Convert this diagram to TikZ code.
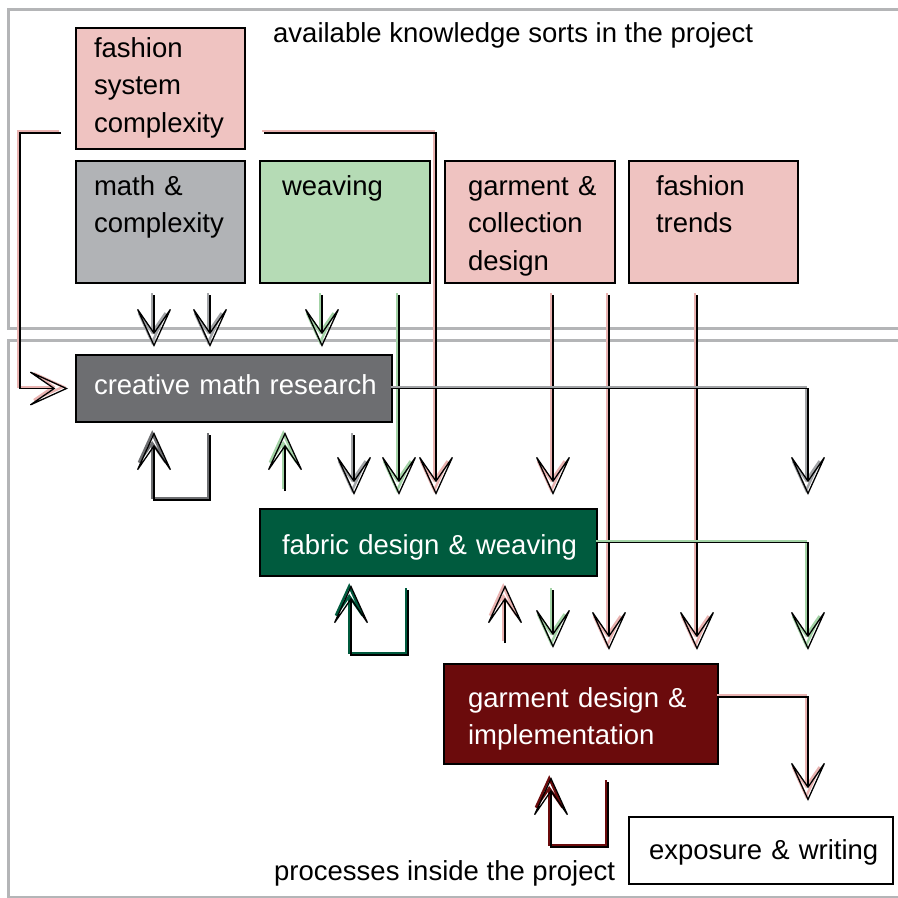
\documentclass[tikz,border=0pt]{standalone}
\usepackage{fontspec}
\setmainfont{Liberation Sans}
\usetikzlibrary{arrows.meta}
\usetikzlibrary{positioning}
\lefthyphenmin=64
\definecolor{mpink}{HTML}{EFC3C1}
\definecolor{mpinkln}{HTML}{E9B3B1}
\definecolor{mgreen}{HTML}{B5DBB5}
\definecolor{mgreenln}{HTML}{A3D3A6}
\definecolor{mgray}{HTML}{B1B3B6}
\definecolor{mgrayln}{HTML}{A2A4A7}
\definecolor{mdgray}{HTML}{6D6E71}
\definecolor{mdgreen}{HTML}{005B3E}
\definecolor{mdred}{HTML}{6B0B0C}
\definecolor{mframe}{HTML}{B4B5B7}
\tikzset{bx/.style = {draw, line width = 2pt, anchor = north west, inner ysep = 0pt, align = left,
                      font = \fontsize{27.5}{37.5}\selectfont}}
\tikzset{proc/.style = {bx, text = white}}
\tikzset{lbl/.style = {anchor = base west, inner sep = 0pt, font = \fontsize{27.5}{37.5}\selectfont}}
\tikzset{lnk/.style = {line width = 1.3pt, -{Stealth[open, length = 44pt, width = 40pt, inset = 29pt]},
                       preaction = {draw = #1, line width = 2.4pt,
                                    transform canvas = {xshift = -1.8pt, yshift = 1.8pt}}}}
\tikzset{frame/.style = {draw = mframe, line width = 3pt}}

\begin{document}
\begin{tikzpicture}[x = 1pt, y = -1pt]
    \useasboundingbox (0, 0) rectangle (898, 898);
    \draw [frame] (898, 9) -- (8, 9) -- (8, 328) -- (898, 328);
    \draw [frame] (898, 340) -- (8, 340) -- (8, 897) -- (898, 897);

    \node [lbl] (avail) at (273, 42) {available knowledge sorts in the project};
    \node [lbl] (procs) at (274, 880) {processes inside the project};

    % knowledge sorts
    \node [bx, fill = mpink, inner xsep = 18pt, text width = 133pt, text height = 29pt, text depth = 92pt]
      (fsc) at (75, 27) {fashion\\system\\complexity};
    \node [bx, fill = mgray, inner xsep = 18pt, text width = 133pt, text height = 34pt, text depth = 88pt]
      (mc) at (75, 160) {math~\&\\complexity};
    \node [bx, fill = mgreen, inner xsep = 22pt, text width = 126pt, text height = 34pt, text depth = 88pt]
      (wv) at (259, 160) {weaving};
    \node [bx, fill = mpink, inner xsep = 23pt, text width = 124pt, text height = 34pt, text depth = 88pt]
      (gcd) at (444, 160) {garment~\&\\collection\\design};
    \node [bx, fill = mpink, inner xsep = 27pt, text width = 115pt, text height = 34pt, text depth = 88pt]
      (ft) at (628, 160) {fashion\\trends};

    % processes
    \node [proc, fill = mdgray, inner xsep = 18pt, text width = 280pt, text height = 39pt, text depth = 28pt]
      (cmr) at (75, 354) {creative~math~research};
    \node [proc, fill = mdgreen, inner xsep = 22pt, text width = 293pt, text height = 45pt, text depth = 22pt]
      (fdw) at (259, 508) {fabric~design~\&~weaving};
    \node [proc, fill = mdred, inner xsep = 24pt, text width = 226pt, text height = 43pt, text depth = 57pt]
      (gdi) at (443, 663) {garment~design~\&\\implementation};
    \node [bx, fill = white, inner xsep = 20pt, text width = 224pt, text height = 42pt, text depth = 25pt]
      (ew) at (628, 816) {exposure~\&~writing};

    \coordinate (rail) at (808, 0);

    % knowledge into processes
    \draw [lnk = mpinkln, shorten >= 7pt] ([xshift = -14pt, yshift = 17pt]fsc.south west) -- ++(-41pt, 0) |- (cmr.west);
    \draw [lnk = mpinkln, shorten >= 13pt] ([xshift = 18pt, yshift = 17pt]fsc.south east) -| ([xshift = 7.5pt]fdw.north);
    \foreach \dx in {-6.5, 49.5}
      \draw [lnk = mgrayln, shorten <= 11pt, shorten >= 7pt] ([xshift = \dx pt]mc.south) -- ([xshift = \dx pt]mc.south |- cmr.north);
    \draw [lnk = mgreenln, shorten <= 11pt, shorten >= 7pt] ([xshift = -23pt]wv.south) -- ([xshift = -23pt]wv.south |- cmr.north);
    \draw [lnk = mgreenln, shorten <= 11pt, shorten >= 13pt] ([xshift = 54pt]wv.south) -- ([xshift = 54pt]wv.south |- fdw.north);
    \draw [lnk = mpinkln, shorten <= 11pt, shorten >= 13pt] ([xshift = 23pt]gcd.south) -- ([xshift = 23pt]gcd.south |- fdw.north);
    \draw [lnk = mpinkln, shorten <= 11pt, shorten >= 13pt] ([xshift = 79pt]gcd.south) -- ([xshift = 79pt]gcd.south |- gdi.north);
    \draw [lnk = mpinkln, shorten <= 11pt, shorten >= 13pt] ([xshift = -16.5pt]ft.south) -- ([xshift = -16.5pt]ft.south |- gdi.north);

    % outputs to the right
    \draw [lnk = mgrayln, shorten >= 13pt] (cmr.east) -| (rail |- fdw.north);
    \draw [lnk = mgreenln, shorten >= 13pt] (fdw.east) -| (rail |- gdi.north);
    \draw [lnk = mpinkln, shorten >= 15pt] ([yshift = 17pt]gdi.east) -| (rail |- ew.north);

    % between processes
    \draw [lnk = mgrayln, shorten <= 12pt, shorten >= 13pt] ([xshift = 120pt]cmr.south) -- ([xshift = 120pt]cmr.south |- fdw.north);
    \draw [lnk = mgreenln, shorten <= 17pt, shorten >= 9pt] ([xshift = -143.5pt]fdw.north) -- ([xshift = -143.5pt]fdw.north |- cmr.south);
    \draw [lnk = mgreenln, shorten <= 13pt, shorten >= 15pt] ([xshift = 124.5pt]fdw.south) -- ([xshift = 124.5pt]fdw.south |- gdi.north);
    \draw [lnk = mpinkln, shorten <= 20pt, shorten >= 8pt] ([xshift = -76pt]gdi.north) -- ([xshift = -76pt]gdi.north |- fdw.south);

    % self loops
    \draw [lnk = mdgray, shorten <= 12pt, shorten >= 9pt] ([xshift = -24pt]cmr.south) -- ++(0, -77pt) -| ([xshift = -80pt]cmr.south);
    \draw [lnk = mdgreen, shorten <= 13pt, shorten >= 8pt] ([xshift = -20.5pt]fdw.south) -- ++(0, -78pt) -| ([xshift = -77.5pt]fdw.south);
    \draw [lnk = mdred, shorten <= 17pt, shorten >= 12pt] ([xshift = 27pt]gdi.south) -- ++(0, -82pt) -| ([xshift = -30pt]gdi.south);
\end{tikzpicture}
\end{document}
